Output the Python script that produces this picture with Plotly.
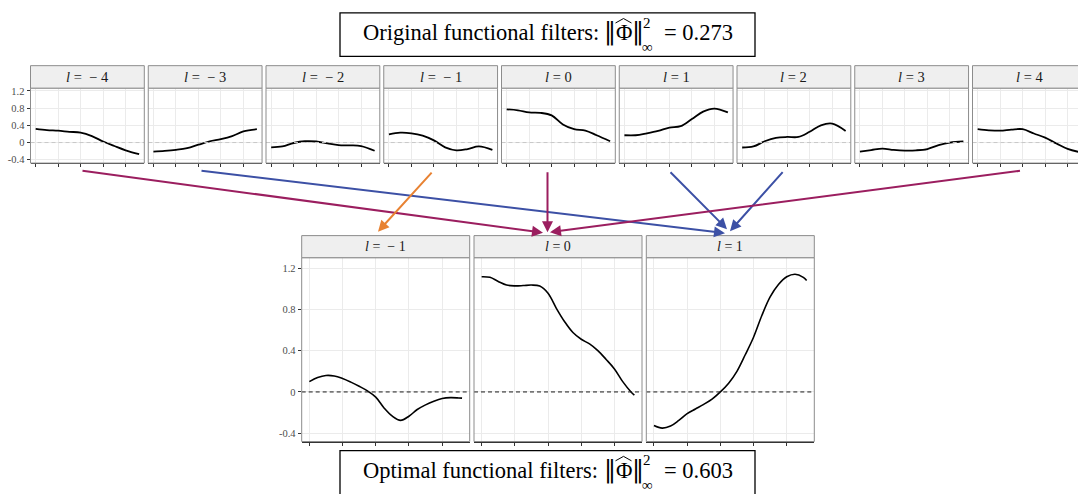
import plotly.graph_objects as go

W, H = 1078, 494

# ---------------- data ----------------
lags_top = [-4, -3, -2, -1, 0, 1, 2, 3, 4]
x_top = [0, 0.5, 1.0, 1.5, 2.0, 2.5, 3.0, 3.5, 4.0, 4.6]
phi_m4 = [0.32, 0.29, 0.275, 0.25, 0.23, 0.15, 0.025, -0.08, -0.18, -0.27]
phi_m3 = [-0.21, -0.195, -0.17, -0.13, -0.05, 0.03, 0.08, 0.15, 0.26, 0.31]
phi_m2 = [-0.11, -0.09, -0.01, 0.03, 0.025, -0.02, -0.06, -0.065, -0.08, -0.19]
phi_m1 = [0.19, 0.23, 0.215, 0.16, 0.05, -0.11, -0.18, -0.15, -0.09, -0.17]
phi_0 = [0.77, 0.75, 0.70, 0.69, 0.63, 0.42, 0.31, 0.28, 0.17, 0.03]
phi_p1 = [0.17, 0.17, 0.215, 0.27, 0.345, 0.38, 0.545, 0.72, 0.79, 0.70]
phi_p2 = [-0.115, -0.09, 0.03, 0.11, 0.13, 0.13, 0.25, 0.40, 0.44, 0.27]
phi_p3 = [-0.21, -0.175, -0.14, -0.17, -0.185, -0.18, -0.15, -0.06, 0.0, 0.025]
phi_p4 = [0.31, 0.285, 0.276, 0.30, 0.31, 0.21, 0.115, -0.02, -0.146, -0.23]

lags_bot = [-1, 0, 1]
x_bot = [0, 0.25, 0.5, 0.75, 1.0, 1.25, 1.5, 1.75, 2.0, 2.25, 2.5, 2.75,
         3.0, 3.25, 3.5, 3.75, 4.0, 4.25, 4.5, 4.6]
opt_m1 = [0.10, 0.14, 0.16, 0.155, 0.13, 0.095, 0.055, 0.01, -0.05, -0.155,
          -0.235, -0.275, -0.235, -0.17, -0.125, -0.09, -0.064, -0.055, -0.058, -0.06]
opt_0 = [1.116, 1.11, 1.07, 1.035, 1.027, 1.03, 1.035, 1.025, 0.955, 0.81,
         0.68, 0.575, 0.51, 0.465, 0.40, 0.315, 0.223, 0.10, 0.0, -0.03]
opt_p1 = [-0.325, -0.35, -0.33, -0.275, -0.21, -0.165, -0.12, -0.07, 0.0, 0.085,
          0.20, 0.36, 0.53, 0.74, 0.92, 1.04, 1.115, 1.14, 1.11, 1.08]

ytick_vals = [-0.4, 0, 0.4, 0.8, 1.2]
ytick_text = ["-0.4", "0", "0.4", "0.8", "1.2"]
xtick_vals = [0, 1, 2, 3, 4]

norm_top = "0.273"
norm_bot = "0.603"

top_series = [phi_m4, phi_m3, phi_m2, phi_m1, phi_0, phi_p1, phi_p2, phi_p3, phi_p4]
bot_series = [opt_m1, opt_0, opt_p1]

# ---------------- helpers ----------------
def fx(px):
    return px / W

def fy(py):
    return 1 - py / H

SERIF = "Liberation Serif"
BORDER = "#8c8c8c"
STRIP_FILL = "#efefef"

def lag_label(l):
    if l < 0:
        return "<i>l</i> =\u00a0\u00a0\u2212\u00a0" + str(-l)
    return "<i>l</i> = " + str(l)

fig = go.Figure()
layout = dict(width=W, height=H, margin=dict(l=0, r=0, t=0, b=0),
              paper_bgcolor="white", plot_bgcolor="white", showlegend=False)
shapes = []
annotations = []

# ---------------- panels ----------------
panels = []
for i, l in enumerate(lags_top):
    left = 30.5 + i * 117.75
    right = left + 113.8
    panels.append(dict(l=l, x=x_top, y=top_series[i], left=left, right=right,
                       top=86.0, bottom=161.7, strip_top=63.3,
                       yrange=[-0.476, 1.264], first=(i == 0), row="top"))
for i, l in enumerate(lags_bot):
    left = 301.7 + i * 172.3
    right = left + 168.0
    panels.append(dict(l=l, x=x_bot, y=bot_series[i], left=left, right=right,
                       top=257.3, bottom=443.0, strip_top=235.0,
                       yrange=[-0.48, 1.30], first=(i == 0), row="bot"))

for k, p in enumerate(panels):
    n = k + 1
    xa = "xaxis" if n == 1 else f"xaxis{n}"
    ya = "yaxis" if n == 1 else f"yaxis{n}"
    xr = "x" if n == 1 else f"x{n}"
    yr = "y" if n == 1 else f"y{n}"
    right_px = min(p["right"], W)
    width_px = p["right"] - p["left"]
    xrange = [-0.23, 4.83]
    if p["right"] > W:
        xrange = [-0.23, -0.23 + (W - p["left"]) / width_px * 5.06]
    layout[xa] = dict(domain=[fx(p["left"]), fx(right_px)], range=xrange,
                      anchor=yr, tickvals=xtick_vals, showticklabels=False,
                      ticks="outside", ticklen=3, tickcolor="#333333",
                      showgrid=True, gridcolor="#ebebeb", gridwidth=1,
                      zeroline=False, showline=True, linecolor="#333333",
                      linewidth=1, fixedrange=True)
    layout[ya] = dict(domain=[fy(p["bottom"]), fy(p["top"])], range=p["yrange"],
                      anchor=xr, tickvals=ytick_vals, ticktext=ytick_text,
                      showticklabels=p["first"],
                      ticks="outside" if p["first"] else "", ticklen=3,
                      tickcolor="#333333",
                      tickfont=dict(family=SERIF, size=10.5, color="#4d4d4d"),
                      showgrid=True, gridcolor="#ebebeb", gridwidth=1,
                      zeroline=False, showline=False, fixedrange=True)
    # zero reference line
    if p["row"] == "top":
        zl = dict(color="#c8c8c8", width=1, dash="4px,3px")
    else:
        zl = dict(color="#1a1a1a", width=1, dash="4px,3px")
    shapes.append(dict(type="line", xref=xr, yref=yr, x0=xrange[0], x1=xrange[1],
                       y0=0, y1=0, line=zl, layer="above"))
    fig.add_trace(go.Scatter(x=p["x"], y=p["y"], mode="lines",
                             line=dict(color="black",
                                       width=1.8 if p["row"] == "top" else 1.6,
                                       shape="spline", smoothing=1.0),
                             xaxis=xr, yaxis=yr, hoverinfo="skip"))
    shapes.append(dict(type="rect", xref="paper", yref="paper",
                       x0=fx(p["left"]), x1=fx(p["right"]),
                       y0=fy(p["bottom"]), y1=fy(p["top"]),
                       line=dict(color=BORDER, width=1), layer="above"))
    shapes.append(dict(type="rect", xref="paper", yref="paper",
                       x0=fx(p["left"]), x1=fx(p["right"]),
                       y0=fy(p["top"]), y1=fy(p["strip_top"]),
                       line=dict(color=BORDER, width=1), fillcolor=STRIP_FILL,
                       layer="above"))
    annotations.append(dict(xref="paper", yref="paper",
                            x=fx((p["left"] + p["right"]) / 2),
                            y=fy((p["top"] + p["strip_top"]) / 2),
                            text=lag_label(p["l"]), showarrow=False,
                            xanchor="center", yanchor="middle",
                            font=dict(family=SERIF,
                                      size=14.5 if p["row"] == "top" else 14,
                                      color="#1a1a1a")))

# ---------------- title boxes ----------------
def title_box(word, value, box_top, box_bottom, baseline):
    shapes.append(dict(type="rect", xref="paper", yref="paper",
                       x0=fx(340), x1=fx(755), y0=fy(box_bottom), y1=fy(box_top),
                       line=dict(color="black", width=1.3), fillcolor="white",
                       layer="above"))
    mid = baseline - 7.6
    f = dict(family=SERIF, size=22.5, color="black")
    annotations.append(dict(xref="paper", yref="paper", x=fx(360.7), y=fy(mid),
                            text=word + " functional filters:", showarrow=False,
                            xanchor="left", yanchor="middle", font=f))
    annotations.append(dict(xref="paper", yref="paper", x=fx(610), y=fy(mid - 1),
                            text="\u2016", showarrow=False,
                            xanchor="center", yanchor="middle",
                            font=dict(family="DejaVu Serif", size=24, color="black")))
    annotations.append(dict(xref="paper", yref="paper", x=fx(623.5), y=fy(mid),
                            text="\u03a6", showarrow=False,
                            xanchor="center", yanchor="middle", font=f))
    # hat over Phi, drawn as a thin stroke
    hy = baseline - 17.5
    shapes.append(dict(type="path", xref="paper", yref="paper",
                       path=(f"M {fx(615.5)} {fy(hy)} L {fx(623.5)} {fy(hy - 4.5)} "
                             f"L {fx(631.5)} {fy(hy)}"),
                       line=dict(color="black", width=1), layer="above"))
    annotations.append(dict(xref="paper", yref="paper", x=fx(637.5), y=fy(mid - 1),
                            text="\u2016", showarrow=False,
                            xanchor="center", yanchor="middle",
                            font=dict(family="DejaVu Serif", size=24, color="black")))
    annotations.append(dict(xref="paper", yref="paper", x=fx(646.5), y=fy(baseline - 18),
                            text="2", showarrow=False,
                            xanchor="center", yanchor="middle",
                            font=dict(family=SERIF, size=15, color="black")))
    annotations.append(dict(xref="paper", yref="paper", x=fx(647.5), y=fy(baseline + 7),
                            text="\u221e", showarrow=False,
                            xanchor="center", yanchor="middle",
                            font=dict(family=SERIF, size=15, color="black")))
    annotations.append(dict(xref="paper", yref="paper", x=fx(662), y=fy(mid),
                            text="= " + value, showarrow=False,
                            xanchor="left", yanchor="middle", font=f))

title_box("Original", norm_top, 10, 54, 37.7)
title_box("Optimal", norm_bot, 452.3, 505, 480)

# ---------------- arrows ----------------
MAROON = "#9b1e5f"
BLUE = "#3c50a5"
ORANGE = "#e88232"
arrows = [
    (MAROON, (81, 170), (543, 232)),
    (BLUE, (200, 170), (725, 232.5)),
    (ORANGE, (433, 170.5), (378, 231)),
    (MAROON, (547.5, 170), (547.5, 231.5)),
    (BLUE, (669, 170), (727, 228.5)),
    (BLUE, (784, 170), (730, 230.5)),
    (MAROON, (1021.5, 170), (550, 231.5)),
]
for col, (sx, sy), (ex, ey) in arrows:
    annotations.append(dict(xref="paper", yref="paper", x=fx(ex), y=fy(ey),
                            ax=sx - ex, ay=sy - ey, axref="pixel", ayref="pixel",
                            text="", showarrow=True, arrowhead=2, arrowsize=1.1,
                            arrowwidth=2, arrowcolor=col, standoff=0))

layout["shapes"] = shapes
layout["annotations"] = annotations
fig.update_layout(**layout)
fig.write_html("out.html")
